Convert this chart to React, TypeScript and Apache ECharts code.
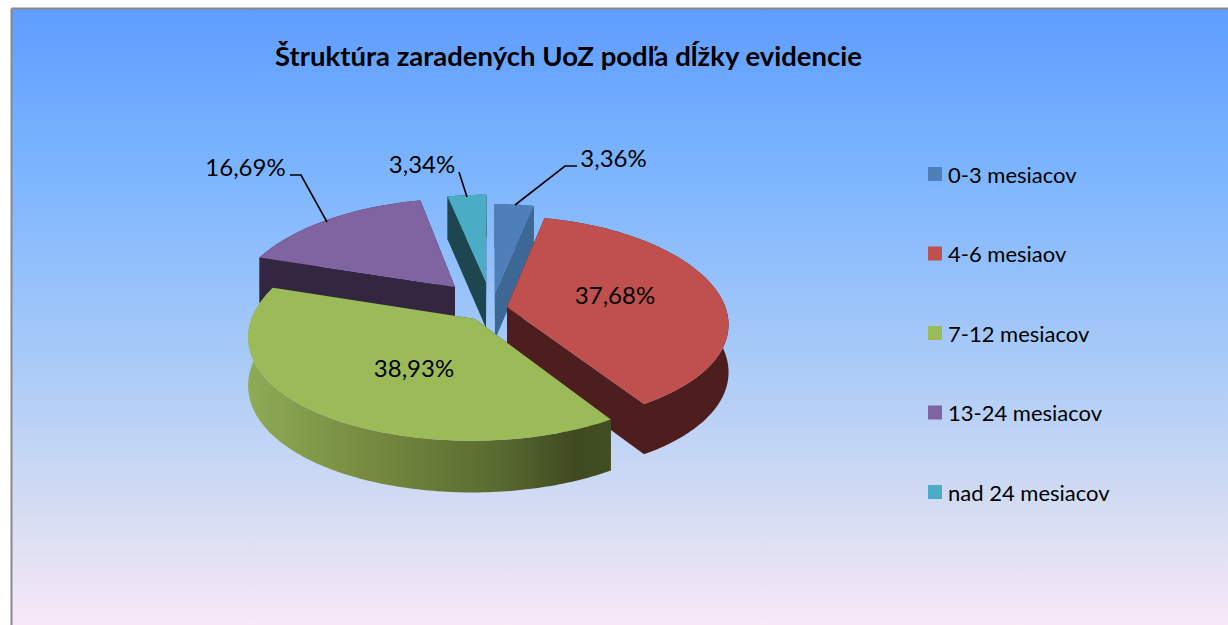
import React, { useEffect, useRef } from "react";
import * as echarts from "echarts";

const TITLE = "Štruktúra zaradených UoZ podľa dĺžky evidencie";
const categories = ["0-3 mesiacov", "4-6 mesiaov", "7-12 mesiacov", "13-24 mesiacov", "nad 24 mesiacov"];
const shares = [3.36, 37.68, 38.93, 16.69, 3.34];
const topColors = ["#4f7fb9", "#c0504d", "#9bbb59", "#8064a2", "#4bacc6"];
const sideColors = ["#3d6895", "#4e1e1e", "#8aa854", "#322640", "#1d4650"];

// layout of the exploded perspective pie (screen px)
const CX = 490, CY = 308, RX = 222, RY = 104, PERSP_X = 0.16, PERSP_Y = 0.13, DEPTH = 47;
const apexX = [495, 507, 475, 455, 486];
const apexY = [293, 307, 319, 287, 282];
const radiusScale = [1.0, 0.985, 0.99, 1.01, 1.01];
const labelX = [613.5, 615, 414, 245.5, 422];
const labelY = [157, 294, 367, 166, 163];
const leaders: (number[][] | null)[] = [
  [[515, 205], [565, 166], [577, 166]],
  null,
  null,
  [[327, 222], [301, 175], [290, 175]],
  [[467, 197], [459, 172]],
];
const drawOrder = [4, 0, 3, 1, 2];

const project = (u: number, v: number) => {
  const s = 1 / (1 - PERSP_X * v);
  return [CX + RX * u * s, CY + (RY * v) / (1 - PERSP_Y * v), s];
};
const invert = (x: number, y: number) => {
  const q = (y - CY) / RY;
  const v = q / (1 + PERSP_Y * q);
  const s = 1 / (1 - PERSP_X * v);
  return [(x - CX) / (RX * s), v];
};
const lower = (p: number[]) => [p[0], p[1] + DEPTH * Math.sqrt(p[2])];
const fmt = (v: number) => v.toFixed(2).replace(".", ",") + "%";

const startAngles = shares.map((_, i) => shares.slice(0, i).reduce((a, b) => a + b, 0) * 3.6);

function makeRenderItem(i: number) {
  return () => {
    const [u0, v0] = invert(apexX[i], apexY[i]);
    const a0 = startAngles[i];
    const a1 = a0 + shares[i] * 3.6;
    const rim: number[][] = [];
    const n = Math.max(2, Math.ceil(a1 - a0));
    for (let k = 0; k <= n; k++) {
      const t = ((a0 + ((a1 - a0) * k) / n) * Math.PI) / 180;
      rim.push(project(u0 + radiusScale[i] * Math.sin(t), v0 - radiusScale[i] * Math.cos(t)));
    }
    const apex = project(u0, v0);
    const xy = (p: number[]) => [p[0], p[1]];
    const rimSide = [...rim.map(xy), ...rim.map(lower).reverse()];
    const startFace = [xy(apex), xy(rim[0]), lower(rim[0]), lower(apex)];
    const endFace = [xy(apex), xy(rim[n]), lower(rim[n]), lower(apex)];
    const sideFill: any =
      i === 2
        ? new echarts.graphic.LinearGradient(0, 0, 1, 0, [
            { offset: 0, color: "#8eab56" },
            { offset: 0.35, color: "#75893f" },
            { offset: 0.7, color: "#58692f" },
            { offset: 0.9, color: "#3f4a20" },
            { offset: 1, color: "#414d22" },
          ])
        : sideColors[i];
    const flatSide = i === 2 ? "#3f4a20" : sideColors[i];
    const children: any[] = [
      { type: "polygon", shape: { points: startFace }, style: { fill: flatSide } },
      { type: "polygon", shape: { points: endFace }, style: { fill: flatSide } },
      { type: "polygon", shape: { points: rimSide }, style: { fill: sideFill } },
      { type: "polygon", shape: { points: [xy(apex), ...rim.map(xy)] }, style: { fill: topColors[i] } },
    ];
    const lead = leaders[i];
    if (lead) {
      children.push({
        type: "polyline",
        shape: { points: lead },
        style: { stroke: "#000", lineWidth: 1.6, fill: "none" },
      });
    }
    children.push({
      type: "text",
      style: {
        text: fmt(shares[i]),
        x: labelX[i],
        y: labelY[i],
        align: "center",
        verticalAlign: "middle",
        fill: "#000",
        font: '24px Lato',
      },
    });
    return { type: "group", children };
  };
}

export default function App() {
  const ref = useRef<HTMLDivElement>(null);
  useEffect(() => {
    document.body.style.margin = "0";
    const chart = echarts.init(ref.current!, undefined, { renderer: "svg" });
    chart.setOption({
      animation: false,
      backgroundColor: "#fff",
      title: {
        text: TITLE,
        left: 275,
        top: 41,
        padding: 0,
        textStyle: { fontFamily: "Lato", fontWeight: "bold", fontSize: 27.5, color: "#000" },
      },
      legend: {
        orient: "vertical",
        left: 928,
        top: 163,
        padding: 0,
        itemWidth: 14,
        itemHeight: 14,
        itemGap: 57.5,
        icon: "rect",
        data: categories,
        textStyle: { fontFamily: "Lato", fontSize: 22, color: "#000", padding: [0, 0, 0, 1] },
      },
      graphic: {
        elements: [
          {
            type: "rect",
            z: -10,
            shape: { x: 12, y: 9, width: 1216, height: 616 },
            style: {
              fill: new echarts.graphic.LinearGradient(0, 0, 0, 1, [
                { offset: 0, color: "#5f9dff" },
                { offset: 0.25, color: "#7ab4ff" },
                { offset: 0.55, color: "#a6c9f8" },
                { offset: 0.85, color: "#dbdff2" },
                { offset: 1, color: "#f8e8f8" },
              ]),
            },
          },
          { type: "line", z: -9, shape: { x1: 11.5, y1: 8.5, x2: 1228, y2: 8.5 }, style: { stroke: "#898989", lineWidth: 2 } },
          { type: "line", z: -9, shape: { x1: 11.5, y1: 8.5, x2: 11.5, y2: 625 }, style: { stroke: "#898989", lineWidth: 2 } },
        ],
      },
      series: drawOrder.map((i, order) => ({
        type: "custom",
        name: categories[i],
        coordinateSystem: "none",
        z: 2 + order,
        silent: true,
        itemStyle: { color: topColors[i] },
        data: [shares[i]],
        renderItem: makeRenderItem(i),
      })),
    });
    return () => chart.dispose();
  }, []);
  return <div ref={ref} style={{ width: 1228, height: 625 }} />;
}
